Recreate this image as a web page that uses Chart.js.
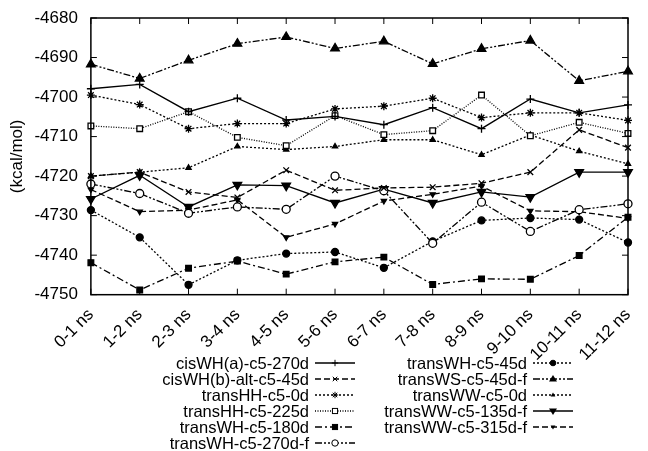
<!DOCTYPE html>
<html><head><meta charset="utf-8">
<script src="https://cdn.jsdelivr.net/npm/chart.js@4"></script>
<style>
body{margin:0;background:#fff;font-family:"Liberation Sans",Arial,sans-serif;}
#wrap{position:relative;width:648px;height:451px;}
#legend{position:absolute;left:0;top:355px;width:648px;font-size:16.5px;line-height:16px;color:#000;}
.col{position:absolute;top:0;}
.row{display:flex;align-items:center;justify-content:flex-end;height:16px;white-space:nowrap;}
.row svg{margin-left:6px;}
</style></head><body>
<div id="wrap"><canvas id="c" width="648" height="451"></canvas><div id="legend"></div></div>
<script>
const categories=["0-1 ns","1-2 ns","2-3 ns","3-4 ns","4-5 ns","5-6 ns","6-7 ns","7-8 ns","8-9 ns","9-10 ns","10-11 ns","11-12 ns"];
const yTicks=[-4750,-4740,-4730,-4720,-4710,-4700,-4690,-4680];
const cisWHa=[-4697.9,-4696.8,-4703.7,-4700.3,-4705.8,-4704.9,-4707,-4702.7,-4708,-4700.5,-4704,-4702];
const cisWHb=[-4720,-4719,-4724,-4725.4,-4718.5,-4723.6,-4723,-4722.8,-4721.8,-4719,-4708.3,-4712.8];
const transHH0=[-4699.5,-4701.9,-4708,-4706.7,-4706.7,-4703,-4702.3,-4700.3,-4705.2,-4704,-4704,-4705.9];
const transHH225=[-4707.3,-4708,-4703.7,-4710.2,-4712.3,-4704.7,-4709.5,-4708.5,-4699.5,-4709.8,-4706.4,-4709.2];
const transWH180=[-4741.9,-4748.8,-4743.3,-4741.5,-4744.8,-4741.7,-4740.5,-4747.4,-4746,-4746.1,-4740.1,-4730.4];
const transWH270f=[-4722,-4724.4,-4729.4,-4727.8,-4728.4,-4720,-4723.7,-4737,-4726.6,-4734,-4728.5,-4727];
const transWH45=[-4728.6,-4735.5,-4747.5,-4741.3,-4739.6,-4739.2,-4743.2,-4736.5,-4731.2,-4730.6,-4731,-4736.8];
const transWS45f=[-4691.7,-4695.3,-4690.7,-4686.5,-4684.8,-4687.7,-4685.9,-4691.6,-4687.8,-4685.7,-4695.9,-4693.5];
const transWW0=[-4720,-4719,-4717.9,-4712.5,-4713.3,-4712.5,-4710.8,-4710.8,-4714.6,-4709.6,-4713.7,-4716.9];
const transWW135f=[-4725.8,-4719.8,-4727.8,-4722.2,-4722.4,-4726.8,-4723.3,-4726.8,-4724,-4725.3,-4719,-4719];
const transWW315f=[-4723.4,-4729,-4728.6,-4726,-4735.5,-4732.1,-4726.3,-4724.6,-4722.5,-4728.8,-4729,-4730.7];

const D={solid:[],dash:[6,3],dot:[2,2],dd:[7,3,2,3],ddd:[7,2,2,2,2,2]};
const series=[
 {label:"cisWH(a)-c5-270d",data:cisWHa,dash:D.solid,ps:"cross",r:4,fill:false,rot:0},
 {label:"cisWH(b)-alt-c5-45d",data:cisWHb,dash:D.dash,ps:"crossRot",r:4,fill:false,rot:0},
 {label:"transHH-c5-0d",data:transHH0,dash:D.dot,ps:"star",r:4,fill:false,rot:0},
 {label:"transHH-c5-225d",data:transHH225,dash:[1,1.5],ps:"rect",r:4,fill:false,rot:0},
 {label:"transWH-c5-180d",data:transWH180,dash:D.dd,ps:"rect",r:4,fill:true,rot:0},
 {label:"transWH-c5-270d-f",data:transWH270f,dash:D.ddd,ps:"circle",r:4,fill:false,rot:0},
 {label:"transWH-c5-45d",data:transWH45,dash:D.dot,ps:"circle",r:3.5,fill:true,rot:0},
 {label:"transWS-c5-45d-f",data:transWS45f,dash:D.ddd,ps:"triangle",r:5,fill:true,rot:0},
 {label:"transWW-c5-0d",data:transWW0,dash:D.dot,ps:"triangle",r:3,fill:true,rot:0},
 {label:"transWW-c5-135d-f",data:transWW135f,dash:D.solid,ps:"triangle",r:5,fill:true,rot:180},
 {label:"transWW-c5-315d-f",data:transWW315f,dash:D.dash,ps:"triangle",r:3,fill:true,rot:180}
];
const frame={id:"frame",afterDraw(ch){const {ctx,chartArea:a,scales:{x,y}}=ch;ctx.save();ctx.strokeStyle="#000";ctx.lineWidth=1.5;ctx.setLineDash([]);ctx.strokeRect(a.left,a.top,a.right-a.left,a.bottom-a.top);ctx.lineWidth=1;
 yTicks.forEach(v=>{const p=y.getPixelForValue(v);ctx.beginPath();ctx.moveTo(a.left,p);ctx.lineTo(a.left+6,p);ctx.moveTo(a.right,p);ctx.lineTo(a.right-6,p);ctx.stroke();});
 categories.forEach((c,i)=>{const p=x.getPixelForValue(i);ctx.beginPath();ctx.moveTo(p,a.bottom);ctx.lineTo(p,a.bottom-6);ctx.moveTo(p,a.top);ctx.lineTo(p,a.top+6);ctx.stroke();});ctx.restore();}};
const F={family:"Liberation Sans",size:17};
new Chart(document.getElementById("c"),{type:"line",
 data:{labels:categories,datasets:series.map(s=>({label:s.label,data:s.data,borderColor:"#000",borderWidth:1.3,borderDash:s.dash,pointStyle:s.ps,pointRadius:s.r,pointRotation:s.rot,pointBorderColor:"#000",pointBorderWidth:1.3,pointBackgroundColor:s.fill?"#000":"#fff",tension:0,fill:false}))},
 options:{responsive:false,animation:false,devicePixelRatio:1,
  layout:{padding:{left:5,right:20,top:18,bottom:84}},
  plugins:{legend:{display:false},tooltip:{enabled:false}},
  scales:{x:{offset:false,grid:{display:false},border:{display:false},ticks:{color:"#000",font:F,minRotation:45,maxRotation:45,padding:2}},
   y:{min:-4750,max:-4680,afterBuildTicks(s){s.ticks=yTicks.map(v=>({value:v}));},grid:{display:false},border:{display:false},
    title:{display:true,text:"(kcal/mol)",color:"#000",font:F,padding:2},
    ticks:{color:"#000",font:F,padding:5,callback:v=>String(v)}}}},
 plugins:[frame]});
function sample(s){const w=40,h=12;const c=h/2;
 const dash=s.dash.length?`stroke-dasharray="${s.dash.join(",")}"`:"";
 let mk="";const f=s.fill?"#000":"#fff";const r=s.r*0.8,m=w/2;
 if(s.ps==="cross")mk=`<path d="M${m-r} ${c}H${m+r}M${m} ${c-r}V${c+r}" stroke="#000"/>`;
 else if(s.ps==="crossRot")mk=`<path d="M${m-r*.7} ${c-r*.7}L${m+r*.7} ${c+r*.7}M${m-r*.7} ${c+r*.7}L${m+r*.7} ${c-r*.7}" stroke="#000"/>`;
 else if(s.ps==="star")mk=`<path d="M${m-r} ${c}H${m+r}M${m} ${c-r}V${c+r}M${m-r*.7} ${c-r*.7}L${m+r*.7} ${c+r*.7}M${m-r*.7} ${c+r*.7}L${m+r*.7} ${c-r*.7}" stroke="#000"/>`;
 else if(s.ps==="rect")mk=`<rect x="${m-r*.8}" y="${c-r*.8}" width="${r*1.6}" height="${r*1.6}" fill="${f}" stroke="#000"/>`;
 else if(s.ps==="circle")mk=`<circle cx="${m}" cy="${c}" r="${r}" fill="${f}" stroke="#000"/>`;
 else {const d=s.rot?1:-1;mk=`<path d="M${m} ${c+d*r}L${m-r} ${c-d*r*.6}L${m+r} ${c-d*r*.6}Z" fill="#000"/>`;}
 return `<svg width="${w}" height="${h}"><line x1="0" y1="${c}" x2="${w}" y2="${c}" stroke="#000" stroke-width="1.3" ${dash}/>${mk}</svg>`;}
const L=document.getElementById("legend");
[[0,6,355],[6,11,573]].forEach(([a,b,right])=>{const col=document.createElement("div");col.className="col";col.style.right=(648-right)+"px";
 series.slice(a,b).forEach(s=>{col.innerHTML+=`<div class="row"><span>${s.label}</span>${sample(s)}</div>`;});L.appendChild(col);});
</script></body></html>
